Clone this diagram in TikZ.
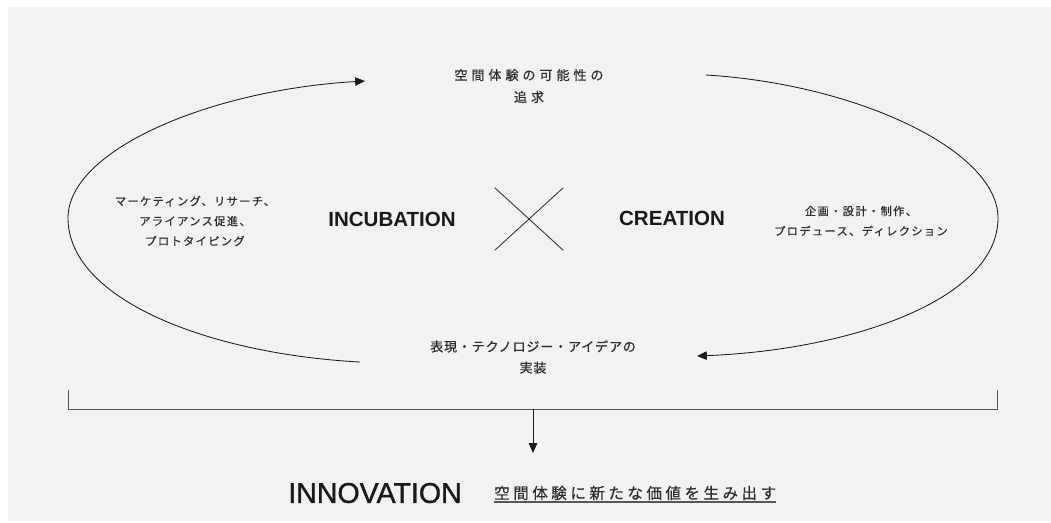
\documentclass[tikz,border=0pt]{standalone}
\usepackage{fontspec}
\setmainfont{Liberation Sans}
\newfontfamily\innovfont[FakeBold=1.2]{Liberation Sans}
\newfontfamily\jpnote[LetterSpace=12,FakeBold=0.6]{Noto Sans CJK JP}
\newfontfamily\jpstage[LetterSpace=30,FakeBold=0.6]{Noto Sans CJK JP}
\newfontfamily\jpimpl[LetterSpace=6,FakeBold=0.6]{Noto Sans CJK JP}
\newfontfamily\jpvalue[LetterSpace=23,FakeBold=0.5]{Noto Sans CJK JP}
\usetikzlibrary{positioning,arrows.meta}
\definecolor{bg}{HTML}{F2F2F2}
\definecolor{ink}{HTML}{1A1A1A}
\definecolor{jpgray}{HTML}{2E2E2E}
\begin{document}
\begin{tikzpicture}[x=0.025cm,y=-0.025cm,node distance=0.8cm]
        % Define styles for nodes and arrows
        \tikzstyle{phase} = [inner sep=0pt, text=ink, font=\fontsize{14.6}{17}\selectfont\bfseries]
        \tikzstyle{note} = [inner sep=0pt, align=center, text=jpgray, font=\jpnote\fontsize{8}{14.2}\selectfont]
        \tikzstyle{stage} = [inner sep=0pt, align=center, text=jpgray, font=\jpstage\fontsize{9.3}{15.6}\selectfont]
        \tikzstyle{arrow} = [line width=0.6pt, draw=ink, -{Triangle[length=7pt,width=6pt]}]
        \tikzstyle{bracket} = [line width=0.6pt, draw=ink!75]

        \useasboundingbox (0,0) rectangle (1051,522);
        \fill [bg] (8,7) rectangle (1051,521);

        \node (goal) [stage] at (529,86) {空間体験の可能性の\\追求};
        \node (impl) [stage, font=\jpimpl\fontsize{9.3}{15}\selectfont] at (533,357) {表現・テクノロジー・アイデアの\\実装};
        \node (incub) [phase] at (392,219) {INCUBATION};
        \node (cross) [inner sep=0pt, minimum width=1.7cm, minimum height=1.55cm] at (529,219) {};
        \node (create) [phase] at (672,218) {CREATION};
        \node (incubnote) [note] at (195,221) {マーケティング、リサーチ、\\アライアンス促進、\\プロトタイピング};
        \node (createnote) [note] at (861,221) {企画・設計・制作、\\プロデュース、ディレクション};
        \node (innov) [inner sep=0pt, text=ink, font=\innovfont\fontsize{20.3}{24}\selectfont] at (375,493) {INNOVATION};
        \node (value) [inner sep=0pt, text=jpgray, right=0.8cm of innov, font=\jpvalue\fontsize{11}{13}\selectfont] {空間体験に新たな価値を生み出す};

        \coordinate (lbot) at (360,362);
        \coordinate (lmid) at (68,218);
        \coordinate (ltop) at (365,81);
        \coordinate (rtop) at (706,75);
        \coordinate (rmid) at (998,218);
        \coordinate (rbot) at (697,356);
        \coordinate (bl) at (68,390);
        \coordinate (br) at (997,390);
        \coordinate (fork) at (533,409);
        \coordinate (drop) at (533,453);

        % Cross
        \draw [line width=0.6pt, draw=jpgray] (cross.north west) -- (cross.south east);
        \draw [line width=0.6pt, draw=jpgray] (cross.north east) -- (cross.south west);

        % Arrows
        \draw [arrow] (lbot) .. controls (210,354) and (68,300) .. (lmid) .. controls (68,150) and (210,90) .. (ltop);
        \draw [arrow] (rtop) .. controls (856,84) and (998,150) .. (rmid) .. controls (998,300) and (850,350) .. (rbot);
        \draw [bracket] (bl) -- ++(0,19) -| (br);
        \draw [arrow] (fork) -- (drop);
        \draw [line width=1pt, draw=jpgray!80] ([yshift=-1pt]value.south west) -- ([yshift=-1pt]value.south east);
\end{tikzpicture}
\end{document}
